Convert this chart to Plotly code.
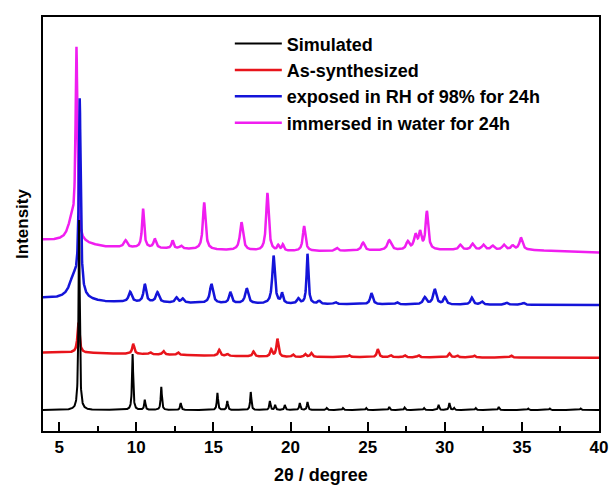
import numpy as np
import plotly.graph_objects as go

# 2theta grid
x = np.arange(3.9, 40.01, 0.01)

series_names = ["Simulated", "As-synthesized", "exposed in RH of 98% for 24h", "immersed in water for 24h"]
series_colors = ["#000000", "#e8141b", "#1414d9", "#f01ef0"]

# ---- Simulated (black) : peak positions (deg), heights, half-widths
sim_pos = [6.29, 9.76, 10.55, 11.62, 12.88, 15.26, 15.9, 17.42, 18.66, 19.0, 19.63, 20.6, 21.1, 22.35,
           23.4, 24.9, 26.4, 27.4, 28.65, 29.6, 30.3, 30.6, 32.0, 33.5, 35.4, 36.8, 38.8]
sim_h = [190, 56, 10, 23, 7, 17, 9, 18, 9, 5, 5, 7, 8, 2,
         2, 2, 3, 2.5, 2, 5, 7, 2, 2, 3, 1.5, 1.5, 1.5]
sim_w = 0.045
sim_base_x = [3.9, 40]
sim_base_y = [21, 21]

# ---- As-synthesized (red)
red_pos = [6.25, 9.8, 10.9, 11.76, 12.7, 15.38, 15.9, 17.6, 18.75, 19.15, 20.15, 20.95, 21.35,
           23.8, 25.66, 26.5, 27.4, 28.3, 30.3, 30.8, 31.9, 34.3]
red_h = [30, 10, 2, 3.5, 2.5, 6, 2, 5, 7, 18, 2.5, 3, 4,
         2, 8, 2, 2, 2, 4, 2, 2, 2]
red_w = 0.08
red_base_x = [3.9, 5.6, 19, 40]
red_base_y = [78.5, 78.5, 74, 73.3]

# ---- exposed in RH 98% (blue)
blue_pos = [5.95, 6.33, 9.6, 10.55, 11.37, 12.6, 13.0, 14.87, 16.1, 17.16, 18.9, 19.45, 20.5, 21.1, 21.85,
            22.9, 25.25, 26.9, 28.7, 29.35, 30.0, 31.75, 32.4, 34.0, 35.1]
blue_h = [22, 192, 10, 18, 10, 5, 4, 19, 11, 15, 48, 10, 5, 50, 3,
          2, 11, 2, 7, 15, 7, 7, 3, 2, 2]
blue_w = [0.35, 0.07, 0.12, 0.1, 0.12, 0.1, 0.1, 0.12, 0.1, 0.12, 0.1, 0.08, 0.1, 0.07, 0.1,
          0.1, 0.1, 0.1, 0.12, 0.12, 0.1, 0.1, 0.1, 0.1, 0.1]
blue_base_x = [3.9, 8, 19, 40]
blue_base_y = [133, 129, 127, 126]

# ---- immersed in water (magenta)
mag_pos = [5.8, 6.12, 9.3, 10.44, 11.2, 12.35, 12.9, 14.4, 16.82, 18.5, 19.2, 19.5, 20.88,
           23.0, 24.7, 26.4, 27.6, 28.1, 28.4, 28.84, 31.0, 31.8, 32.5, 33.1, 33.83, 34.4, 34.94]
mag_h = [20, 187, 7, 39, 9, 8, 3, 47, 28, 58, 5, 6, 25,
         3, 8, 10, 8, 14, 16, 38, 5, 6, 5, 4, 5, 4, 12]
mag_w = [0.3, 0.07, 0.12, 0.08, 0.1, 0.08, 0.1, 0.1, 0.12, 0.1, 0.08, 0.08, 0.1,
         0.1, 0.12, 0.15, 0.12, 0.12, 0.1, 0.1, 0.12, 0.12, 0.12, 0.12, 0.12, 0.12, 0.12]
mag_base_x = [3.9, 5.0, 8, 19, 30, 35.2, 40]
mag_base_y = [191, 190, 184, 179.5, 181, 181, 178.5]


def profile(pos, h, w, bx, by):
    y = np.interp(x, bx, by)
    ws = w if isinstance(w, list) else [w] * len(pos)
    for c, a, g in zip(pos, h, ws):
        y = y + a / (1 + ((x - c) / g) ** 2)
    return y


ys = [
    profile(sim_pos, sim_h, sim_w, sim_base_x, sim_base_y),
    profile(red_pos, red_h, red_w, red_base_x, red_base_y),
    profile(blue_pos, blue_h, blue_w, blue_base_x, blue_base_y),
    profile(mag_pos, mag_h, mag_w, mag_base_x, mag_base_y),
]
widths = [2, 2.5, 2.5, 2.5]

fig = go.Figure()
for i in [3, 2, 1, 0]:
    fig.add_trace(go.Scatter(x=x, y=ys[i], mode="lines", name=series_names[i],
                             line=dict(color=series_colors[i], width=widths[i])))

fnt = "Liberation Sans, Arial, sans-serif"
fig.update_layout(
    width=613, height=487,
    margin=dict(l=43, r=14, t=17, b=56),
    plot_bgcolor="white", paper_bgcolor="white",
    font=dict(family=fnt, color="black"),
    showlegend=True,
    legend=dict(x=0.336, y=0.98, xanchor="left", yanchor="top", traceorder="reversed",
                font=dict(family=fnt, size=18, weight="bold", color="black"),
                bgcolor="rgba(0,0,0,0)", itemwidth=47, tracegroupgap=0),
    xaxis=dict(range=[3.95, 40], showline=True, mirror=True, linecolor="black", linewidth=2,
               ticks="inside", ticklen=9, tickwidth=2, tickcolor="black",
               tickvals=[5, 10, 15, 20, 25, 30, 35, 40],
               minor=dict(tickvals=[7.5, 12.5, 17.5, 22.5, 27.5, 32.5, 37.5], ticks="inside",
                          ticklen=5, tickwidth=2, tickcolor="black"),
               tickfont=dict(family=fnt, size=17, weight="bold"),
               showgrid=False, zeroline=False, automargin=False,
               title=dict(text="2θ / degree", font=dict(family=fnt, size=18, weight="bold"), standoff=12)),
    yaxis=dict(range=[0, 414], showline=True, mirror=True, linecolor="black", linewidth=2,
               showticklabels=False, ticks="", showgrid=False, zeroline=False, automargin=False,
               title=dict(text="Intensity", font=dict(family=fnt, size=17, weight="bold"), standoff=8)),
)

fig.write_html("out.html")
